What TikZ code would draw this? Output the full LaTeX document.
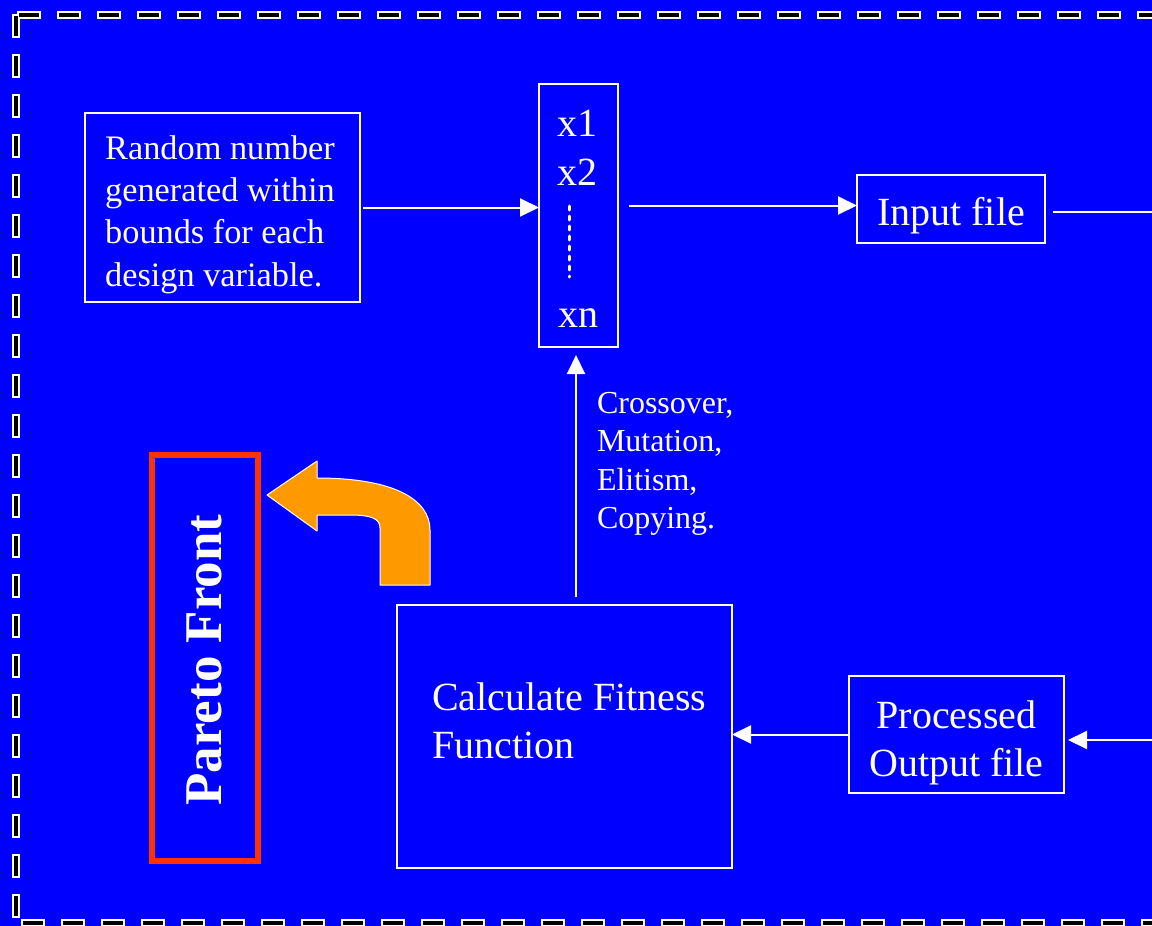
\documentclass[tikz,border=0pt]{standalone}
\usepackage{fontspec}
\setmainfont{Liberation Serif}
\usetikzlibrary{positioning,calc,arrows.meta}
\definecolor{slide}{HTML}{0000FF}
\definecolor{paretored}{HTML}{FF3300}
\definecolor{turn}{HTML}{FF9900}

\begin{document}
\begin{tikzpicture}[x=1pt,y=-1pt,
				every node/.style={text=white,inner sep=0pt,outer sep=0pt},
				block/.style={draw=white,line width=2pt,rectangle},
				link/.style={white,line width=2pt},
				arr/.style={link,-{Triangle[length=19pt,width=18pt]}},
				mid/.style={font=\fontsize{34.3}{42.2}\selectfont},
				big/.style={font=\fontsize{40}{48}\selectfont},
				small/.style={font=\fontsize{32}{38.5}\selectfont},
				borderw/.style={white,line width=8pt,dash pattern=on 24pt off 16pt},
				borderb/.style={black,line width=4.5pt,dash pattern=on 20pt off 20pt,dash phase=38pt}]
				\useasboundingbox (0,0) rectangle (1152,926);
				\clip (0,0) rectangle (1152,926);
				\fill[slide] (0,0) rectangle (1152,926);
				% dashed frame
				\foreach \s in {borderw,borderb}{
					\draw[\s] (17,15) -- (1160,15);
					\draw[\s] (16,14) -- (16,926);
					\draw[\s] (21,923) -- (1160,923);
				}
				% boxes
				\node (RAND)   [block,minimum width=275pt,minimum height=189pt] at (222.5,207.5) {};
				\node (RANDTXT)[mid,align=left] at ([xshift=-2.5pt,yshift=-7pt]RAND.center)
					{Random number\\generated within\\bounds for each\\design variable.};
				\node (VARS)   [block,minimum width=79pt,minimum height=263pt] at (578.5,215.5) {};
				\node (X1)     [big] at (577,123) {x1};
				\node (X2)     [big] at (577,172) {x2};
				\node (XN)     [big] at (578,318) {xn};
				\coordinate (DOTA) at (569,206);
				\coordinate (DOTB) at (569,277);
				\draw[white,line width=3pt,line cap=round,dash pattern=on 4pt off 6pt] (DOTA) -- (DOTB);
				\node (INPUT)  [block,minimum width=188pt,minimum height=68pt] at (951,209) {};
				\node (INTXT)  [big] at ([yshift=-7pt]INPUT.center) {Input file};
				\node (FIT)    [block,minimum width=335pt,minimum height=263pt] at (564.5,736.5) {};
				\node (FITTXT) [big,align=left,anchor=west] at (432,721) {Calculate Fitness\\Function};
				\node (PROC)   [block,minimum width=215pt,minimum height=117pt] at (956.5,734.5) {};
				\node (PROCTXT)[big,align=center] at ([yshift=-8pt]PROC.center) {Processed\\Output file};
				\node (OPS)    [small,align=left,anchor=west] at (597,464)
					{Crossover,\\Mutation,\\Elitism,\\Copying.};
				\node (PARETO) [draw=paretored,line width=6pt,minimum width=106pt,minimum height=406pt] at (204.5,657.5) {};
				\node (PFTXT)  [rotate=90,font=\fontsize{53}{60}\selectfont\bfseries] at (204,660) {Pareto Front};
				% connectors
				\draw[arr] ([xshift=3pt]RAND.east) -- (RAND.east -| VARS.west);
				\coordinate (XOUT) at ([xshift=11pt,yshift=10pt]VARS.east);
				\draw[arr] (XOUT) -- (XOUT -| INPUT.west);
				\coordinate (OUTR) at (1160,212);
				\draw[link] (INPUT.east |- OUTR) ++(8,0) -- (OUTR);
				\coordinate (INR) at (1160,740);
				\draw[arr] (INR) -- ([xshift=4pt]INR -| PROC.east);
				\draw[arr] (PROC.west) -- (PROC.west -| FIT.east);
				\coordinate (UP) at (576,597);
				\draw[arr] (UP) -- ([yshift=-8pt]UP |- VARS.south);
				% curved arrow to the front
				\draw[fill=turn,draw=white,line width=1pt,line join=round]
					(267,495) -- (317,461) -- (317,478) .. controls (395,478) and (430,500) .. (430,530)
					-- (430,585) -- (380,585) -- (380,528) .. controls (380,519) and (372,515) .. (350,515)
					-- (317,515) -- (317,531) -- cycle;
			\end{tikzpicture}
\end{document}
